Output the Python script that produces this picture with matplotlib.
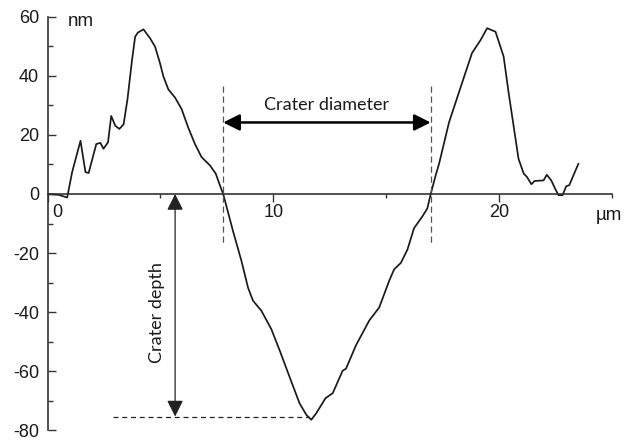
import matplotlib
matplotlib.use("Agg")
import matplotlib.pyplot as plt
import matplotlib.transforms as mtransforms
from matplotlib.ticker import MultipleLocator, FixedLocator

# crater profile, x in micrometres, height in nanometres
x_um = [0.00, 0.50, 0.87, 1.09, 1.46, 1.68, 1.82, 2.16, 2.34, 2.48, 2.68, 2.82,
        3.00, 3.18, 3.37, 3.54, 3.74, 3.88, 4.00, 4.25, 4.54, 4.76, 4.98, 5.13,
        5.35, 5.65, 5.94, 6.23, 6.53, 6.82, 7.19, 7.45, 7.63, 7.78, 8.22, 8.59,
        8.88, 9.10, 9.47, 9.91, 10.28, 10.72, 11.16, 11.46, 11.68, 11.90, 12.31,
        12.63, 13.07, 13.22, 13.66, 14.25, 14.69, 15.13, 15.35, 15.65, 15.94,
        16.23, 16.60, 16.82, 16.97, 17.19, 17.34, 17.78, 18.36, 18.80, 19.18,
        19.47, 19.84, 20.20, 20.42, 20.64, 20.86, 21.09, 21.23, 21.43, 21.57,
        21.97, 22.11, 22.31, 22.48, 22.63, 22.81, 22.97, 23.11, 23.29, 23.51]
z_nm = [0.0, -0.3, -1.2, 7.4, 18.0, 7.4, 7.1, 16.9, 17.3, 15.3, 17.5, 26.4,
        23.1, 22.0, 23.6, 32.0, 45.2, 53.2, 54.6, 55.7, 52.7, 49.9, 44.3, 39.8,
        35.4, 32.6, 28.7, 22.5, 16.9, 12.5, 9.7, 6.9, 3.0, 0.0, -12.7, -22.7,
        -31.7, -36.1, -39.5, -45.7, -52.9, -61.9, -70.8, -74.7, -76.4, -74.2,
        -69.1, -67.4, -59.8, -59.1, -51.2, -42.8, -38.4, -29.4, -25.5, -23.3,
        -18.8, -11.6, -7.6, -4.9, 0.0, 6.3, 10.2, 24.2, 37.6, 47.7, 52.1,
        56.1, 54.9, 46.5, 34.3, 23.1, 11.9, 6.9, 5.8, 3.3, 4.4,
        4.6, 6.5, 4.6, 1.8, -0.4, -0.4, 2.6, 3.0, 6.3, 10.2]

rim_left = 7.78
rim_right = 16.97
depth_bottom = -75.3
x_ticks = [0, 10, 20]
y_ticks = [60, 40, 20, 0, -20, -40, -60, -80]

plt.rcParams['font.family'] = ['Liberation Sans', 'DejaVu Sans']
plt.rcParams['axes.unicode_minus'] = False

fig = plt.figure(figsize=(6.27, 4.41), dpi=100)
ax = fig.add_axes([0.0758, 0.024, 0.9003, 0.9382])

ax.plot(x_um, z_nm, color='#1a1a1a', lw=1.25)

ax.set_xlim(0, 25)
ax.set_ylim(-80, 60)

for s in ['top', 'right']:
    ax.spines[s].set_visible(False)
ax.spines['bottom'].set_position(('data', 0))
for s in ['left', 'bottom']:
    ax.spines[s].set_color('#333333')
    ax.spines[s].set_linewidth(1.2)

ax.xaxis.set_major_locator(FixedLocator(x_ticks))
ax.xaxis.set_minor_locator(FixedLocator([5, 15, 25]))
ax.yaxis.set_major_locator(FixedLocator(y_ticks))
ax.yaxis.set_minor_locator(MultipleLocator(10))

ax.tick_params(axis='x', which='major', direction='out', length=6, width=1,
               color='#333333', labelsize=13, labelcolor='#1a1a1a', pad=1.5)
ax.tick_params(axis='x', which='minor', direction='out', length=3, width=1,
               color='#333333')
ax.tick_params(axis='y', which='major', direction='in', length=6, width=1,
               color='#333333', labelsize=13, labelcolor='#1a1a1a', pad=6)
ax.tick_params(axis='y', which='minor', direction='in', length=3.5, width=1,
               color='#333333')

# the "0" under the origin sits to the right of the y axis
lbl0 = ax.get_xticklabels()[0]
lbl0.set_transform(lbl0.get_transform() +
                   mtransforms.ScaledTranslation(0.095, 0, fig.dpi_scale_trans))

ax.text(0.9, 57.0, 'nm', fontsize=13.5, color='#1a1a1a', ha='left',
        va='baseline')
ax.text(24.3, -8.8, 'µm', fontsize=13.5, color='#1a1a1a', ha='left',
        va='baseline')

# rim markers and diameter arrow
for xr in [rim_left, rim_right]:
    ax.plot([xr, xr], [36.5, -16.6], color='#555555', lw=0.9,
            dashes=(5, 3))
ax.annotate('', xy=(rim_left, 24.2), xytext=(rim_right, 24.2),
            arrowprops=dict(arrowstyle='<|-|>,head_length=0.9,head_width=0.45',
                            color='black', lw=1.8, shrinkA=0, shrinkB=0,
                            mutation_scale=11))
ax.text((rim_left + rim_right) / 2, 27.3, 'Crater diameter',
        family=['Lato', 'DejaVu Sans'], fontsize=13, color='#1a1a1a',
        ha='center', va='bottom')

# depth arrow down to the crater floor
ax.plot([2.91, 11.6], [depth_bottom, depth_bottom], color='#222222', lw=0.9,
        dashes=(4, 3))
ax.annotate('', xy=(5.65, 0), xytext=(5.65, depth_bottom),
            arrowprops=dict(arrowstyle='<|-|>,head_length=0.9,head_width=0.45',
                            color='#222222', lw=0.9, shrinkA=0, shrinkB=0,
                            mutation_scale=11))
ax.text(4.84, -40, 'Crater depth', family=['Lato', 'DejaVu Sans'],
        fontsize=13, color='#1a1a1a', rotation=90, ha='center', va='center')

fig.savefig('out.png', dpi=100)
